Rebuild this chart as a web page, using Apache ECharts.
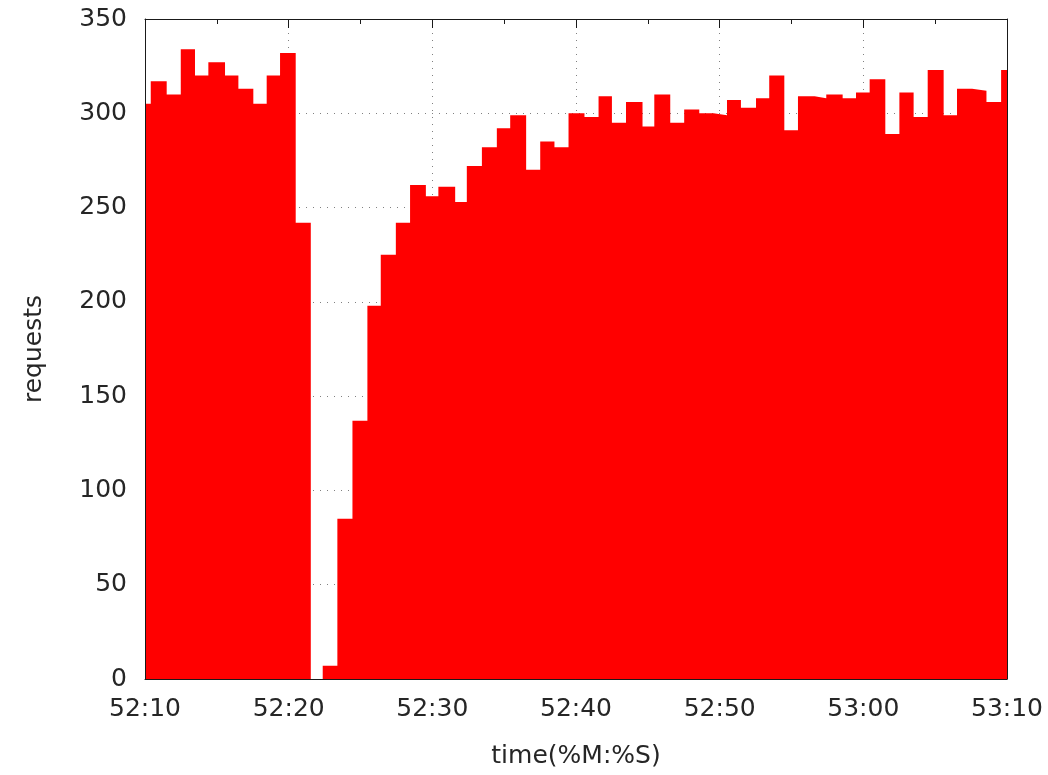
<!DOCTYPE html>
<html lang="en">
<head>
    <meta charset="UTF-8">
    <title>requests</title>
    <style>
        html, body { margin: 0; padding: 0; background: #fff; }
    </style>
</head>
<body>

<div id="main" style="width: 1048px;height:775px;"></div>

<script src="https://cdn.jsdelivr.net/npm/echarts@6/dist/echarts.min.js" charset="utf-8"></script>

<script type="text/javascript">

    // seconds after 52:10 at which each sample starts
    var times = [0, 0.40, 1.51, 2.49, 3.48, 4.41, 5.57, 6.50, 7.54, 8.47,
        9.40, 10.49, 11.54, 12.37, 13.39, 14.44, 15.48, 16.41, 17.46, 18.45,
        19.55, 20.42, 21.59, 22.40, 23.45, 24.49, 25.42, 26.53, 27.51, 28.50,
        29.48, 30.59, 31.57, 32.50, 33.48, 34.63, 35.45, 36.56, 37.53, 38.58,
        39.58, 40.51, 41.48, 42.53, 43.45, 44.50, 45.45, 46.61, 47.42, 48.56,
        49.49, 50.44, 51.53, 52.51, 53.50, 54.48, 55.59, 56.52, 57.57, 58.57,
        59.59];
    var requests = [305, 317, 310, 334, 320, 327, 320, 313, 305, 320,
        332, 242, 0, 7, 85, 137, 198, 225, 242, 262,
        256, 261, 253, 272, 282, 292, 299, 270, 285, 282,
        300, 298, 309, 295, 306, 293, 310, 295, 302, 300,
        299, 307, 303, 308, 320, 291, 309, 308, 310, 308,
        311, 318, 289, 311, 298, 323, 299, 313, 312, 306,
        323];
    var baseSec = 52 * 60 + 10;
    var xMax = 60;
    var yTicks = [0, 50, 100, 150, 200, 250, 300, 350];

    function pad(n) {
        return (n < 10 ? '0' : '') + n;
    }
    function fmtTime(v) {
        var s = Math.round(baseSec + v);
        return pad(Math.floor(s / 60) % 60) + ':' + pad(s % 60);
    }

    var points = [];
    for (var i = 0; i < times.length; i++) {
        points.push([times[i], requests[i]]);
    }
    // carry the last step to the right edge
    points.push([xMax, requests[requests.length - 1]]);

    var font = 'DejaVu Sans';
    var txt = '#262626';
    var frame = {show: true, onZero: false, lineStyle: {color: '#1a1a1a', width: 1}};
    var noLine = {show: false, onZero: false};
    var dots = {show: true, lineStyle: {color: '#808080', width: 1, type: [1, 6]}};

    var myChart = echarts.init(document.getElementById('main'));

    var option = {
        animation: false,
        backgroundColor: '#ffffff',
        grid: {
            left: 145,
            top: 19,
            width: 862,
            height: 660,
            containLabel: false
        },
        xAxis: [
            {
                type: 'value', min: 0, max: xMax, interval: 10,
                position: 'bottom', z: 10,
                axisLine: frame,
                axisTick: {show: false},
                splitLine: {show: false},
                axisLabel: {
                    formatter: fmtTime, margin: 18,
                    fontFamily: font, fontSize: 25, color: txt
                },
                name: 'time(%M:%S)',
                nameLocation: 'middle',
                nameGap: 65,
                nameTextStyle: {fontFamily: font, fontSize: 25, color: txt}
            },
            {
                type: 'value', min: 0, max: xMax, interval: 10,
                position: 'top', z: 10,
                axisLine: frame,
                axisTick: {show: true, inside: true, length: 9, lineStyle: {color: '#1a1a1a'}},
                minorTick: {show: true, splitNumber: 2, length: 5, lineStyle: {color: '#1a1a1a'}},
                splitLine: {show: false},
                axisLabel: {show: false}
            },
            {
                type: 'value', min: 0, max: xMax, interval: 10,
                position: 'bottom', z: 0,
                axisLine: noLine,
                axisTick: {show: false},
                axisLabel: {show: false},
                splitLine: dots
            }
        ],
        yAxis: [
            {
                type: 'value', min: yTicks[0], max: yTicks[yTicks.length - 1], interval: 50,
                position: 'left', z: 10,
                axisLine: frame,
                axisTick: {show: false},
                splitLine: {show: false},
                axisLabel: {
                    margin: 18, fontFamily: font, fontSize: 25, color: txt
                },
                name: 'requests',
                nameLocation: 'middle',
                nameGap: 98,
                nameRotate: 90,
                nameTextStyle: {fontFamily: font, fontSize: 25, color: txt}
            },
            {
                type: 'value', min: yTicks[0], max: yTicks[yTicks.length - 1], interval: 50,
                position: 'right', z: 10,
                axisLine: frame,
                axisTick: {show: false},
                splitLine: {show: false},
                axisLabel: {show: false}
            },
            {
                type: 'value', min: yTicks[0], max: yTicks[yTicks.length - 1], interval: 50,
                position: 'left', z: 0,
                axisLine: noLine,
                axisTick: {show: false},
                axisLabel: {show: false},
                splitLine: dots
            }
        ],
        series: [{
            name: 'requests',
            type: 'line',
            step: 'end',
            xAxisIndex: 0,
            yAxisIndex: 0,
            data: points,
            symbol: 'none',
            clip: true,
            lineStyle: {color: '#ff0000', width: 0},
            areaStyle: {color: '#ff0000', opacity: 1},
            z: 2
        }]
    };

    myChart.setOption(option);

</script>
</body>

</html>
